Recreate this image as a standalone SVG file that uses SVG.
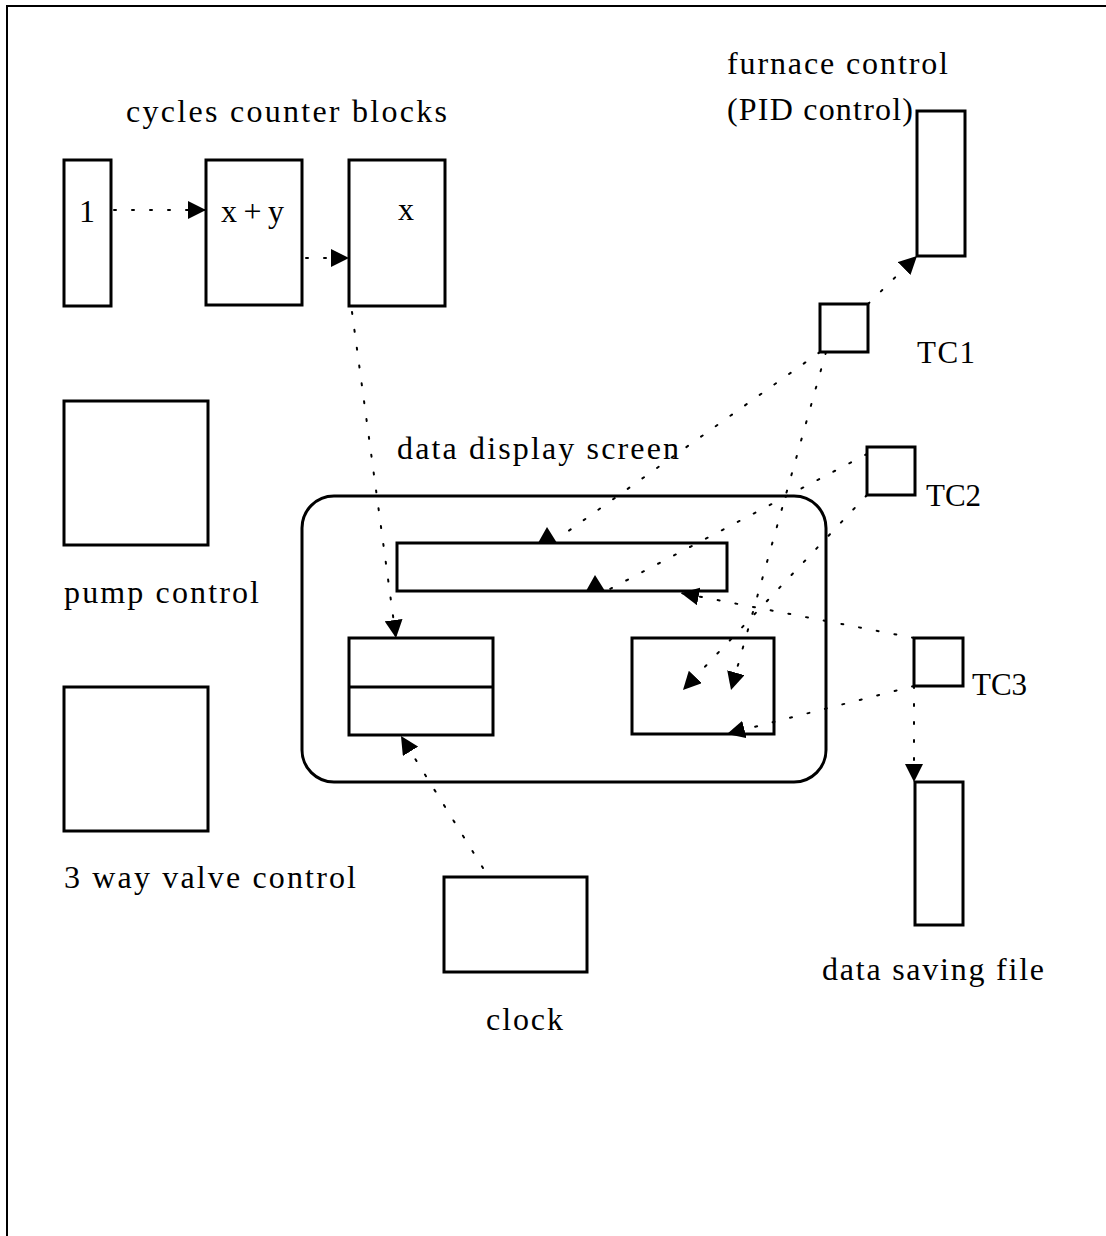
<svg xmlns="http://www.w3.org/2000/svg" width="1106" height="1236" viewBox="0 0 1106 1236">
<style>
.box{fill:#fff;stroke:#000;stroke-width:3}
.t{font-family:"Liberation Serif","Times New Roman",serif;font-size:32px;fill:#000}
.s{font-size:31px}
.c{fill:none;stroke:#000;stroke-width:2;stroke-dasharray:2 16;stroke-linecap:round}
.ah{fill:#000}
</style>
<defs>
<marker id="arr" markerUnits="userSpaceOnUse" markerWidth="20" markerHeight="18" refX="18" refY="9" orient="auto">
<path d="M0,0 L18,9 L0,18 Z" fill="#000"/>
</marker>
</defs>
<rect width="1106" height="1236" fill="#fff"/>
<g id="frame">
<path d="M7,1236 V6 H1106" fill="none" stroke="#000" stroke-width="2"/>
</g>
<g id="display-screen">
<rect x="302" y="496" width="524" height="286" rx="32" class="box"/>
<rect x="397" y="543" width="330" height="48" class="box"/>
<rect x="349" y="638" width="144" height="97" class="box"/>
<line x1="349" y1="687" x2="493" y2="687" stroke="#000" stroke-width="3"/>
<rect x="632" y="638" width="142" height="96" class="box"/>
<text x="397" y="459" class="t" textLength="282" lengthAdjust="spacing">data display screen</text>
</g>
<g id="block-1"><rect x="64" y="160" width="47" height="146" class="box"/><text x="79" y="222" class="t">1</text></g>
<g id="block-xy"><rect x="206" y="160" width="96" height="145" class="box"/><text x="221" y="222" class="t" textLength="63" lengthAdjust="spacing">x + y</text></g>
<g id="block-x"><rect x="349" y="160" width="96" height="146" class="box"/><text x="398" y="220" class="t">x</text></g>
<g id="counter-label"><text x="126" y="122" class="t" textLength="321" lengthAdjust="spacing">cycles counter blocks</text></g>
<g id="furnace"><rect x="917" y="111" width="48" height="145" class="box"/>
<text x="727" y="74" class="t" textLength="221" lengthAdjust="spacing">furnace control</text>
<text x="727" y="120" class="t" textLength="186" lengthAdjust="spacing">(PID control)</text></g>
<g id="tc1"><rect x="820" y="304" width="48" height="48" class="box"/><text x="917" y="363" class="t s" textLength="58" lengthAdjust="spacing">TC1</text></g>
<g id="tc2"><rect x="867" y="447" width="48" height="48" class="box"/><text x="926" y="506" class="t s">TC2</text></g>
<g id="tc3"><rect x="914" y="638" width="49" height="48" class="box"/><text x="972" y="695" class="t s">TC3</text></g>
<g id="pump"><rect x="64" y="401" width="144" height="144" class="box"/><text x="64" y="603" class="t" textLength="195" lengthAdjust="spacing">pump control</text></g>
<g id="valve"><rect x="64" y="687" width="144" height="144" class="box"/><text x="64" y="888" class="t" textLength="292" lengthAdjust="spacing">3 way valve control</text></g>
<g id="clock"><rect x="444" y="877" width="143" height="95" class="box"/><text x="486" y="1030" class="t" textLength="77" lengthAdjust="spacing">clock</text></g>
<g id="data-file"><rect x="915" y="782" width="48" height="143" class="box"/><text x="822" y="980" class="t" textLength="222" lengthAdjust="spacing">data saving file</text></g>
<g id="connectors">
<line x1="114" y1="210" x2="206" y2="210" class="c" marker-end="url(#arr)"/>
<line x1="306" y1="258" x2="349" y2="258" class="c" marker-end="url(#arr)"/>
<line x1="352" y1="312" x2="396" y2="638" class="c" marker-end="url(#arr)"/>
<line x1="868" y1="304" x2="917" y2="256" class="c" marker-end="url(#arr)"/>
<line x1="820" y1="352" x2="560" y2="537" class="c"/>
<path d="M538,543 L557,543 L547,527 Z" class="ah"/>
<line x1="867" y1="454" x2="610" y2="589" class="c"/>
<path d="M586,591 L605,591 L595,575 Z" class="ah"/>
<line x1="914" y1="638" x2="681" y2="593" class="c" marker-end="url(#arr)"/>
<line x1="867" y1="495" x2="683" y2="690" class="c" marker-end="url(#arr)"/>
<line x1="826" y1="352" x2="731" y2="690" class="c" marker-end="url(#arr)"/>
<line x1="914" y1="686" x2="727" y2="734" class="c" marker-end="url(#arr)"/>
<line x1="914" y1="686" x2="914" y2="782" class="c" marker-end="url(#arr)"/>
<line x1="483" y1="868" x2="401" y2="736" class="c" marker-end="url(#arr)"/>
</g>
</svg>
